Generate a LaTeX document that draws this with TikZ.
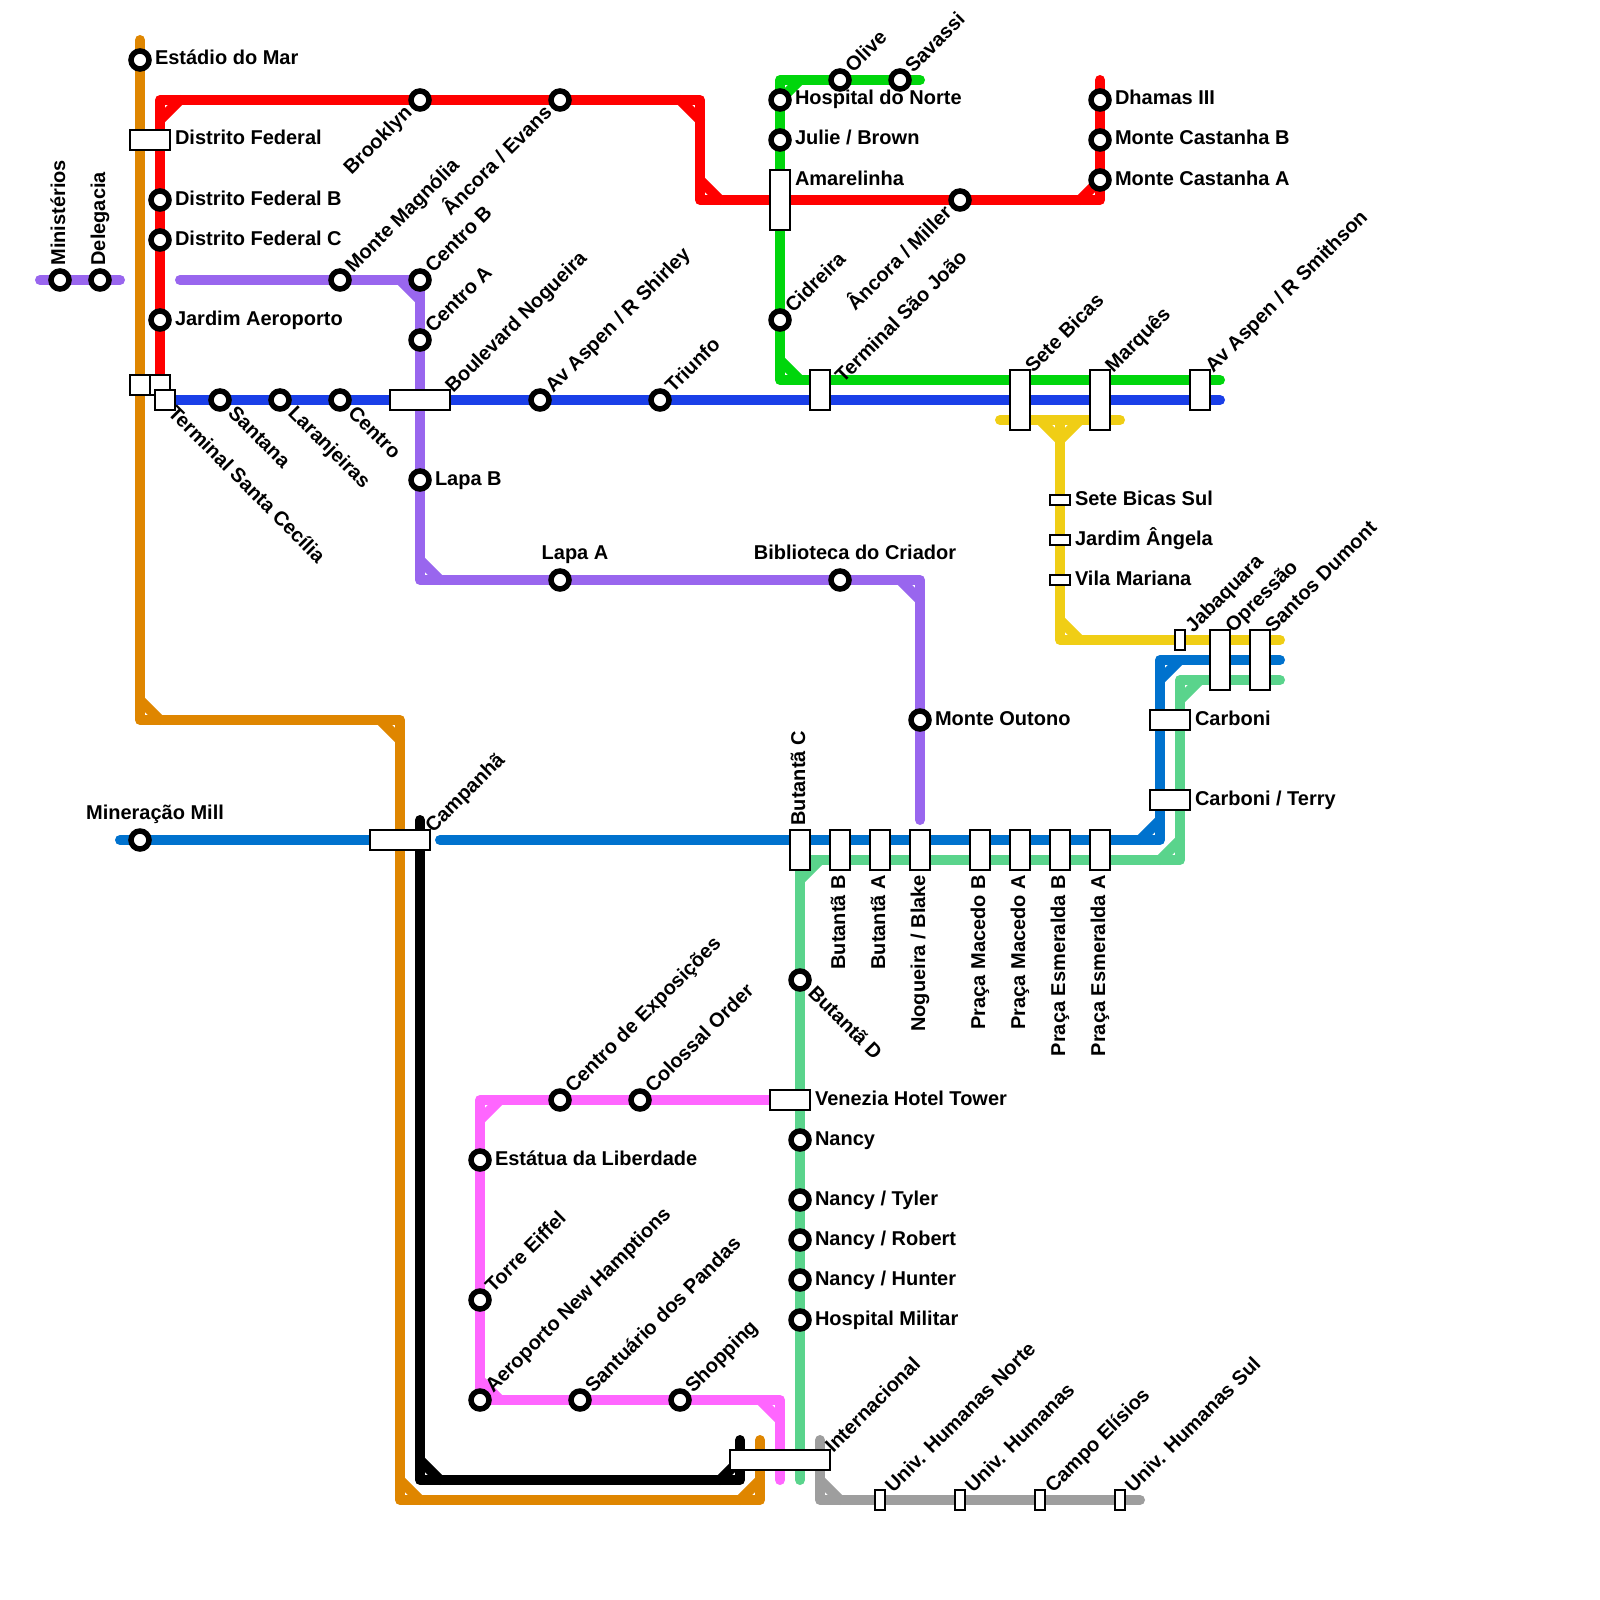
\documentclass[tikz,border=0pt]{standalone}
\usepackage{fontspec}
\setmainfont{Liberation Sans}
\usetikzlibrary{backgrounds}
\definecolor{lnorange}{HTML}{DF8600}
\definecolor{lnred}{HTML}{FF0000}
\definecolor{lnpurple}{HTML}{9966EE}
\definecolor{lnblue}{HTML}{1A3FE8}
\definecolor{lnsky}{HTML}{0072CE}
\definecolor{lngreen}{HTML}{00D60C}
\definecolor{lnyellow}{HTML}{F0CE15}
\definecolor{lnmint}{HTML}{5AD48C}
\definecolor{lnpink}{HTML}{FF66FF}
\definecolor{lngrey}{HTML}{9E9E9E}
\newcommand{\bevel}[4]{\draw[ln, #1] (#2) ++(#3,0) -- ++(-#3,#4);}
\begin{document}
\begin{tikzpicture}[
   x=1pt, y=-1pt,
   stn/.style={circle, draw=black, fill=white, line width=5.5pt, minimum size=18pt,
      inner sep=0pt, outer sep=0pt},
   sbox/.style 2 args={rectangle, draw=black, fill=white, line width=2pt,
      minimum width=#1pt, minimum height=#2pt, inner sep=0pt, outer sep=0pt},
   ln/.style={line width=10pt, line cap=round, line join=round},
   lab/.style={font=\bfseries\fontsize{20}{22}\selectfont, inner sep=0pt, outer sep=0pt},
   labe/.style={lab, anchor=base west, xshift=15pt, yshift=-5pt},
   labt/.style={lab, anchor=base, xshift=15pt, yshift=21pt},
   labne/.style={lab, xshift=13.4pt, yshift=6.4pt, anchor=base west, rotate=45},
   labse/.style={lab, xshift=7.1pt, yshift=-14.1pt, anchor=base west, rotate=-45},
   labsw/.style={lab, xshift=-7.1pt, yshift=-14.1pt, anchor=base east, rotate=45},
   labn/.style={lab, xshift=5pt, yshift=14.5pt, anchor=base west, rotate=90},
   labs/.style={lab, xshift=5pt, yshift=-15pt, anchor=base east, rotate=90}
]
\useasboundingbox (0,0) rectangle (1600,1600);

\node[stn] (estadio) at (140,60) {};
\node[stn] (brooklyn) at (420,100) {};
\node[stn] (evans) at (560,100) {};
\node[stn] (dfedb) at (160,200) {};
\node[stn] (dfedc) at (160,240) {};
\node[stn] (jaero) at (160,320) {};
\node[stn] (minist) at (60,280) {};
\node[stn] (deleg) at (100,280) {};
\node[stn] (magnolia) at (340,280) {};
\node[stn] (centrob) at (420,280) {};
\node[stn] (centroa) at (420,340) {};
\node[stn] (santana) at (220,400) {};
\node[stn] (laranj) at (280,400) {};
\node[stn] (centro) at (340,400) {};
\node[stn] (shirley) at (540,400) {};
\node[stn] (triunfo) at (660,400) {};
\node[stn] (lapab) at (420,480) {};
\node[stn] (lapaa) at (560,580) {};
\node[stn] (biblio) at (840,580) {};
\node[stn] (outono) at (920,720) {};
\node[stn] (hnorte) at (780,100) {};
\node[stn] (julie) at (780,140) {};
\node[stn] (olive) at (840,80) {};
\node[stn] (savassi) at (900,80) {};
\node[stn] (miller) at (960,200) {};
\node[stn] (cidreira) at (780,320) {};
\node[stn] (dhamas) at (1100,100) {};
\node[stn] (castb) at (1100,140) {};
\node[stn] (casta) at (1100,180) {};
\node[stn] (mill) at (140,840) {};
\node[stn] (butd) at (800,980) {};
\node[stn] (expo) at (560,1100) {};
\node[stn] (colossal) at (640,1100) {};
\node[stn] (nancy) at (800,1140) {};
\node[stn] (tyler) at (800,1200) {};
\node[stn] (robert) at (800,1240) {};
\node[stn] (hunter) at (800,1280) {};
\node[stn] (hmilitar) at (800,1320) {};
\node[stn] (estatua) at (480,1160) {};
\node[stn] (eiffel) at (480,1300) {};
\node[stn] (aero) at (480,1400) {};
\node[stn] (pandas) at (580,1400) {};
\node[stn] (shopping) at (680,1400) {};

\node[sbox={40}{20}] (dfed) at (150,140) {};
\node[sbox={20}{20}] (tsca) at (140,385) {};
\node[sbox={20}{20}] (tscb) at (160,385) {};
\node[sbox={20}{20}] (tsc) at (165,400) {};
\node[sbox={60}{20}] (boulevard) at (420,400) {};
\node[sbox={20}{40}] (tsj) at (820,390) {};
\node[sbox={20}{60}] (setebicas) at (1020,400) {};
\node[sbox={20}{60}] (marques) at (1100,400) {};
\node[sbox={20}{40}] (smithson) at (1200,390) {};
\node[sbox={20}{60}] (amarel) at (780,200) {};
\node[sbox={20}{10}] (sbsul) at (1060,500) {};
\node[sbox={20}{10}] (jangela) at (1060,540) {};
\node[sbox={20}{10}] (vmariana) at (1060,580) {};
\node[sbox={10}{20}] (jabaq) at (1180,640) {};
\node[sbox={20}{60}] (opressao) at (1220,660) {};
\node[sbox={20}{60}] (sdumont) at (1260,660) {};
\node[sbox={40}{20}] (carboni) at (1170,720) {};
\node[sbox={40}{20}] (cterry) at (1170,800) {};
\node[sbox={60}{20}] (campanha) at (400,840) {};
\node[sbox={20}{40}] (butc) at (800,850) {};
\node[sbox={20}{40}] (butb) at (840,850) {};
\node[sbox={20}{40}] (buta) at (880,850) {};
\node[sbox={20}{40}] (blake) at (920,850) {};
\node[sbox={20}{40}] (macedob) at (980,850) {};
\node[sbox={20}{40}] (macedoa) at (1020,850) {};
\node[sbox={20}{40}] (esmerb) at (1060,850) {};
\node[sbox={20}{40}] (esmera) at (1100,850) {};
\node[sbox={40}{20}] (venezia) at (790,1100) {};
\node[sbox={100}{20}] (internac) at (780,1460) {};
\node[sbox={10}{20}] (uhnorte) at (880,1500) {};
\node[sbox={10}{20}] (uhum) at (960,1500) {};
\node[sbox={10}{20}] (elisios) at (1040,1500) {};
\node[sbox={10}{20}] (uhsul) at (1120,1500) {};

\node[labe] (estadiol) at (estadio) {Estádio do Mar};
\node[labe] (dfedl) at (160,140) {Distrito Federal};
\node[labe] (dfedbl) at (dfedb) {Distrito Federal B};
\node[labe] (dfedcl) at (dfedc) {Distrito Federal C};
\node[labe] (jaerol) at (jaero) {Jardim Aeroporto};
\node[labsw] (brooklynl) at (brooklyn) {Brooklyn};
\node[labsw] (evansl) at (evans) {Âncora / Evans};
\node[labn] (ministl) at (minist) {Ministérios};
\node[labn] (delegl) at (deleg) {Delegacia};
\node[labne] (magnolial) at (magnolia) {Monte Magnólia};
\node[labne] (centrobl) at (centrob) {Centro B};
\node[labne] (centroal) at (centroa) {Centro A};
\node[labse] (tscl) at (160,400) {Terminal Santa Cecília};
\node[labse] (santanal) at (santana) {Santana};
\node[labse] (laranjl) at (laranj) {Laranjeiras};
\node[labse] (centrol) at (centro) {Centro};
\node[labne] (boulevardl) at (440,400) {Boulevard Nogueira};
\node[labne] (shirleyl) at (shirley) {Av Aspen / R Shirley};
\node[labne] (triunfol) at (triunfo) {Triunfo};
\node[labe] (lapabl) at (lapab) {Lapa B};
\node[labt] (lapaal) at (lapaa) {Lapa A};
\node[labt] (bibliol) at (biblio) {Biblioteca do Criador};
\node[labe] (outonol) at (outono) {Monte Outono};
\node[labe] (hnortel) at (hnorte) {Hospital do Norte};
\node[labe] (juliel) at (julie) {Julie / Brown};
\node[labe] (amarell) at (780,180) {Amarelinha};
\node[labne] (olivel) at (olive) {Olive};
\node[labne] (savassil) at (savassi) {Savassi};
\node[labsw] (millerl) at (miller) {Âncora / Miller};
\node[labne] (cidreiral) at (cidreira) {Cidreira};
\node[labe] (dhamasl) at (dhamas) {Dhamas III};
\node[labe] (castbl) at (castb) {Monte Castanha B};
\node[labe] (castal) at (casta) {Monte Castanha A};
\node[labne] (tsjl) at (830,390) {Terminal São João};
\node[labne] (setebicasl) at (1020,380) {Sete Bicas};
\node[labne] (marquesl) at (1100,380) {Marquês};
\node[labne] (smithsonl) at (1200,380) {Av Aspen / R Smithson};
\node[labe] (sbsull) at (sbsul) {Sete Bicas Sul};
\node[labe] (jangelal) at (jangela) {Jardim Ângela};
\node[labe] (vmarianal) at (vmariana) {Vila Mariana};
\node[labne] (jabaql) at (jabaq) {Jabaquara};
\node[labne] (opressaol) at (1220,640) {Opressão};
\node[labne] (sdumontl) at (1260,640) {Santos Dumont};
\node[labe] (carbonil) at (1180,720) {Carboni};
\node[labe] (cterryl) at (1180,800) {Carboni / Terry};
\node[labt] (milll) at (mill) {Mineração Mill};
\node[labne] (campanhal) at (420,840) {Campanhã};
\node[labn] (butcl) at (800,840) {Butantã C};
\node[labs] (butbl) at (840,860) {Butantã B};
\node[labs] (butal) at (880,860) {Butantã A};
\node[labs] (blakel) at (920,860) {Nogueira / Blake};
\node[labs] (macedobl) at (980,860) {Praça Macedo B};
\node[labs] (macedoal) at (1020,860) {Praça Macedo A};
\node[labs] (esmerbl) at (1060,860) {Praça Esmeralda B};
\node[labs] (esmeral) at (1100,860) {Praça Esmeralda A};
\node[labse] (butdl) at (butd) {Butantã D};
\node[labne] (expol) at (expo) {Centro de Exposições};
\node[labne] (colossall) at (colossal) {Colossal Order};
\node[labe] (venezial) at (800,1100) {Venezia Hotel Tower};
\node[labe] (nancyl) at (nancy) {Nancy};
\node[labe] (tylerl) at (tyler) {Nancy / Tyler};
\node[labe] (robertl) at (robert) {Nancy / Robert};
\node[labe] (hunterl) at (hunter) {Nancy / Hunter};
\node[labe] (hmilitarl) at (hmilitar) {Hospital Militar};
\node[labe] (estatual) at (estatua) {Estátua da Liberdade};
\node[labne] (eiffell) at (eiffel) {Torre Eiffel};
\node[labne] (aerol) at (aero) {Aeroporto New Hamptions};
\node[labne] (pandasl) at (pandas) {Santuário dos Pandas};
\node[labne] (shoppingl) at (shopping) {Shopping};
\node[labne] (internacl) at (820,1460) {Internacional};
\node[labne] (uhnortel) at (uhnorte) {Univ. Humanas Norte};
\node[labne] (uhuml) at (uhum) {Univ. Humanas};
\node[labne] (elisiosl) at (elisios) {Campo Elísios};
\node[labne] (uhsull) at (uhsul) {Univ. Humanas Sul};

\coordinate (orangea) at (140,40);
\coordinate (orangeb) at (140,720);
\coordinate (orangec) at (400,720);
\coordinate (oranged) at (400,1500);
\coordinate (orangee) at (760,1500);
\coordinate (orangef) at (760,1440);
\coordinate (reda) at (160,100);
\coordinate (redb) at (700,100);
\coordinate (redc) at (700,200);
\coordinate (redd) at (1100,200);
\coordinate (rede) at (1100,80);
\coordinate (purplea) at (40,280);
\coordinate (purpleb) at (120,280);
\coordinate (purplec) at (180,280);
\coordinate (purpled) at (420,580);
\coordinate (purplee) at (920,580);
\coordinate (purplef) at (920,820);
\coordinate (blueend) at (1220,400);
\coordinate (greena) at (920,80);
\coordinate (greenb) at (780,80);
\coordinate (greenc) at (780,380);
\coordinate (greend) at (1220,380);
\coordinate (yellowa) at (1000,420);
\coordinate (yellowb) at (1120,420);
\coordinate (yellowc) at (1060,420);
\coordinate (yellowd) at (1060,640);
\coordinate (yellowe) at (1280,640);
\coordinate (skya) at (120,840);
\coordinate (skyb) at (440,840);
\coordinate (skyc) at (1160,840);
\coordinate (skyd) at (1160,660);
\coordinate (skye) at (1280,660);
\coordinate (minta) at (1280,680);
\coordinate (mintb) at (1180,680);
\coordinate (mintc) at (1180,860);
\coordinate (mintd) at (800,860);
\coordinate (minte) at (800,1480);
\coordinate (pinka) at (780,1100);
\coordinate (pinkb) at (480,1100);
\coordinate (pinkc) at (780,1400);
\coordinate (pinkd) at (780,1480);
\coordinate (blacka) at (420,820);
\coordinate (blackb) at (420,1480);
\coordinate (blackc) at (740,1480);
\coordinate (blackd) at (740,1440);
\coordinate (greya) at (820,1440);
\coordinate (greyb) at (820,1500);
\coordinate (greyc) at (1140,1500);

\begin{scope}[on background layer]
\draw[ln, lnorange] (orangea) -- (orangeb) -- (orangec) -- (oranged) -- (orangee) -- (orangef);
\bevel{lnorange}{orangeb}{20}{-20}
\bevel{lnorange}{orangec}{-20}{20}
\bevel{lnorange}{oranged}{20}{-20}
\bevel{lnorange}{orangee}{-20}{-20}
\draw[ln, lnred] (tscb.center) -- (reda) -- (redb) -- (redc) -- (redd) -- (rede);
\bevel{lnred}{reda}{20}{20}
\bevel{lnred}{redb}{-20}{20}
\bevel{lnred}{redc}{20}{-20}
\bevel{lnred}{redd}{-20}{-20}
\draw[ln, lnpurple] (purplea) -- (purpleb);
\draw[ln, lnpurple] (purplec) -- (centrob.center) -- (purpled) -- (purplee) -- (purplef);
\bevel{lnpurple}{centrob}{-20}{20}
\bevel{lnpurple}{purpled}{20}{-20}
\bevel{lnpurple}{purplee}{-20}{20}
\draw[ln, lnblue] (tsc.center) -- (blueend);
\draw[ln, lngreen] (greena) -- (greenb) -- (greenc) -- (greend);
\bevel{lngreen}{greenb}{20}{20}
\bevel{lngreen}{greenc}{20}{-20}
\draw[ln, lnyellow] (yellowa) -- (yellowb);
\draw[ln, lnyellow] (yellowc) -- (yellowd) -- (yellowe);
\bevel{lnyellow}{yellowc}{-20}{20}
\bevel{lnyellow}{yellowc}{20}{20}
\bevel{lnyellow}{yellowd}{20}{-20}
\draw[ln, lnsky] (skya) -- (campanha.center);
\draw[ln, lnsky] (skyb) -- (skyc) -- (skyd) -- (skye);
\bevel{lnsky}{skyc}{-20}{-20}
\bevel{lnsky}{skyd}{20}{20}
\draw[ln, lnmint] (minta) -- (mintb) -- (mintc) -- (mintd) -- (minte);
\bevel{lnmint}{mintb}{20}{20}
\bevel{lnmint}{mintc}{-20}{-20}
\bevel{lnmint}{mintd}{20}{20}
\draw[ln, lnpink] (pinka) -- (pinkb) -- (aero.center) -- (pinkc) -- (pinkd);
\bevel{lnpink}{pinkb}{20}{20}
\bevel{lnpink}{aero}{20}{-20}
\bevel{lnpink}{pinkc}{-20}{20}
\draw[ln, black] (blacka) -- (blackb) -- (blackc) -- (blackd);
\bevel{black}{blackb}{20}{-20}
\bevel{black}{blackc}{-20}{-20}
\draw[ln, lngrey] (greya) -- (greyb) -- (greyc);
\bevel{lngrey}{greyb}{20}{-20}
\end{scope}
\end{tikzpicture}
\end{document}
